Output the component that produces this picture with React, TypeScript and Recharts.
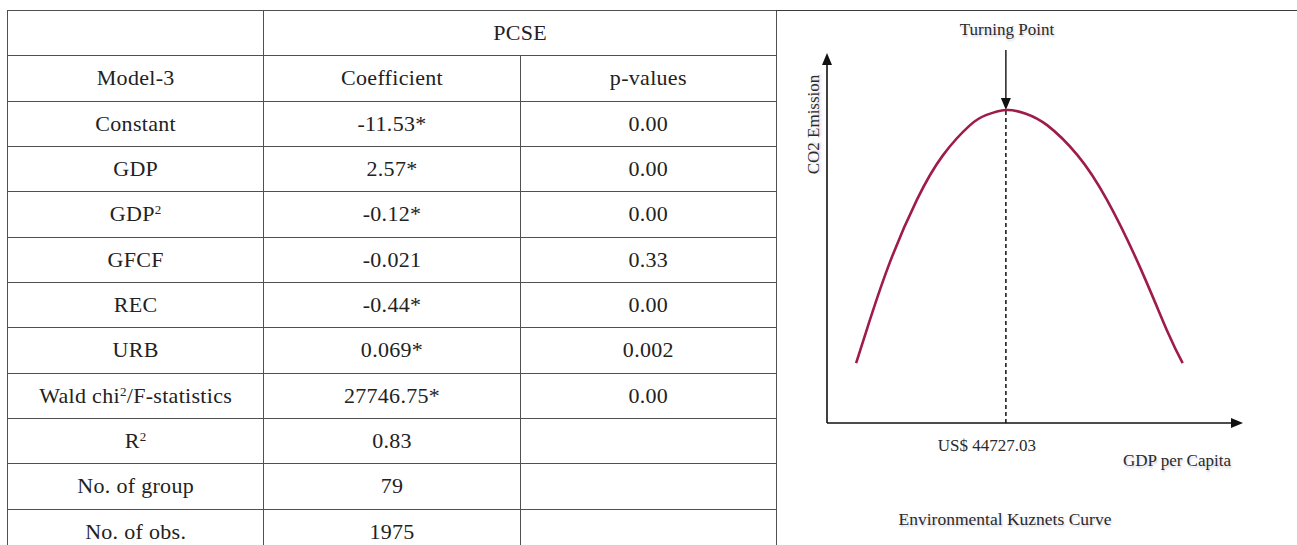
import { LineChart, Line, XAxis, YAxis, ReferenceLine } from 'recharts'

// regression table (PCSE, Model-3)
const variables = ['Constant', 'GDP', 'GDP^2', 'GFCF', 'REC', 'URB', 'Wald chi^2/F-statistics', 'R^2', 'No. of group', 'No. of obs.']
const coefficients = ['-11.53*', '2.57*', '-0.12*', '-0.021', '-0.44*', '0.069*', '27746.75*', '0.83', '79', '1975']
const pValues = ['0.00', '0.00', '0.00', '0.33', '0.00', '0.002', '0.00', '', '', '']

// EKC sketch (x: GDP per capita, y: CO2 emission, both 0-100)
const gdpLevels = [7.0, 9.3, 14.7, 21.6, 27.9, 34.4, 38.2, 43.0, 47.8, 52.9, 60.2, 67.3, 75.2, 82.0, 85.5]
const emissionLevels = [16.2, 24.3, 42.2, 60.3, 72.4, 80.5, 83.2, 84.6, 83.6, 80.5, 72.4, 60.3, 42.2, 24.3, 16.2]
const turningGdp = 43.0
const turningEmission = 84.6
const turningLabel = 'US$ 44727.03'

const curve = gdpLevels.map((g, i) => ({ gdp: g, co2: emissionLevels[i] }))

const serif = '"Liberation Serif", "Times New Roman", serif'
const ink = '#222'
const border = '1.5px solid #505050'

const withSup = (s: string) => {
  const i = s.indexOf('^')
  if (i < 0) return s
  return (
    <>
      {s.slice(0, i)}
      <sup style={{ fontSize: 13, lineHeight: 0, verticalAlign: 7 }}>{s[i + 1]}</sup>
      {s.slice(i + 2)}
    </>
  )
}

const ArrowLine = (dir: 'up' | 'right' | 'down') => (props: any) => {
  const { x1, y1, x2, y2 } = props
  const h = 12
  const w = 5
  if (dir === 'up') {
    const tx = x2
    const ty = Math.min(y1, y2)
    return (
      <g>
        <line x1={x1} y1={Math.max(y1, y2)} x2={tx} y2={ty + h - 2} stroke="#111" strokeWidth={1.6} />
        <polygon points={`${tx},${ty} ${tx - w},${ty + h} ${tx + w},${ty + h}`} fill="#111" />
      </g>
    )
  }
  if (dir === 'right') {
    const tx = Math.max(x1, x2)
    const ty = y2
    return (
      <g>
        <line x1={Math.min(x1, x2)} y1={y1} x2={tx - h + 2} y2={ty} stroke="#111" strokeWidth={1.6} />
        <polygon points={`${tx},${ty} ${tx - h},${ty - w} ${tx - h},${ty + w}`} fill="#111" />
      </g>
    )
  }
  const tx = x2
  const ty = Math.max(y1, y2)
  return (
    <g>
      <line x1={x1} y1={Math.min(y1, y2)} x2={tx} y2={ty - h + 2} stroke="#111" strokeWidth={1.4} />
      <polygon points={`${tx},${ty} ${tx - w},${ty - h} ${tx + w},${ty - h}`} fill="#111" />
    </g>
  )
}

const shadow = '1px 2px 2px rgba(120,130,175,0.35)'

function ResultsTable() {
  const cell = {
    border,
    textAlign: 'center' as const,
    verticalAlign: 'middle' as const,
    padding: 0,
    fontFamily: serif,
    fontSize: 22,
    color: ink,
    letterSpacing: 0.3,
  }
  const rowH = 45.33
  return (
    <table
      style={{
        position: 'absolute',
        left: 7,
        top: 10,
        width: 770,
        borderCollapse: 'collapse',
        tableLayout: 'fixed',
      }}
    >
      <colgroup>
        <col style={{ width: 256 }} />
        <col style={{ width: 256 }} />
        <col style={{ width: 256 }} />
      </colgroup>
      <tbody>
        <tr style={{ height: rowH }}>
          <td style={cell}></td>
          <td style={cell} colSpan={2}>PCSE</td>
        </tr>
        <tr style={{ height: rowH }}>
          <td style={cell}>Model-3</td>
          <td style={cell}>Coefficient</td>
          <td style={cell}>p-values</td>
        </tr>
        {variables.map((v, i) => (
          <tr key={v} style={{ height: rowH }}>
            <td style={cell}>{withSup(v)}</td>
            <td style={cell}>{coefficients[i]}</td>
            <td style={cell}>{pValues[i]}</td>
          </tr>
        ))}
      </tbody>
    </table>
  )
}

const label = (text: string, cx: number, top: number, size = 17) => (
  <div
    style={{
      position: 'absolute',
      left: cx - 150,
      top,
      width: 300,
      textAlign: 'center',
      fontFamily: serif,
      fontSize: size,
      lineHeight: `${size}px`,
      color: '#2a2a2a',
      textShadow: shadow,
      whiteSpace: 'nowrap',
    }}
  >
    {text}
  </div>
)

export default function App() {
  return (
    <div
      style={{
        position: 'absolute',
        left: 0,
        top: 0,
        width: 1297,
        height: 545,
        overflow: 'hidden',
        background: '#fff',
      }}
    >
      <ResultsTable />
      <div style={{ position: 'absolute', left: 776, top: 10, width: 521, height: 0, borderTop: '1.5px solid #3a3a3a' }} />

      <div style={{ position: 'absolute', left: 776, top: 0 }}>
        <LineChart width={521} height={545} data={curve} margin={{ top: 53, right: 54, bottom: 82, left: 51 }}>
          <XAxis
            dataKey="gdp"
            type="number"
            domain={[0, 100]}
            ticks={[turningGdp]}
            tickFormatter={() => turningLabel}
            axisLine={false}
            tickLine={false}
            height={40}
            tick={{ fill: '#2a2a2a', fontSize: 17, fontFamily: serif, dx: -19, dy: 8 }}
          />
          <YAxis type="number" domain={[0, 100]} hide />
          <ReferenceLine
            segment={[{ x: 0, y: 0 }, { x: 0, y: 100 }]}
            shape={ArrowLine('up')}
            ifOverflow="visible"
          />
          <ReferenceLine
            segment={[{ x: 0, y: 0 }, { x: 100, y: 0 }]}
            shape={ArrowLine('right')}
            ifOverflow="visible"
          />
          <ReferenceLine
            segment={[{ x: turningGdp, y: 0 }, { x: turningGdp, y: turningEmission }]}
            stroke="#111"
            strokeWidth={1.5}
            strokeDasharray="4 3"
            ifOverflow="visible"
          />
          <ReferenceLine
            segment={[{ x: turningGdp, y: 100.8 }, { x: turningGdp, y: turningEmission }]}
            shape={ArrowLine('down')}
            ifOverflow="visible"
          />
          <Line
            type="natural"
            dataKey="co2"
            stroke="#9e1b4c"
            strokeWidth={2.6}
            dot={false}
            isAnimationActive={false}
          />
        </LineChart>
      </div>

      {label('Turning Point', 1007, 21)}
      {label('GDP per Capita', 1177, 452)}
      {label('Environmental Kuznets Curve', 1005, 511, 17.5)}
      <div
        style={{
          position: 'absolute',
          left: 813 - 60,
          top: 125 - 9,
          width: 120,
          textAlign: 'center',
          fontFamily: serif,
          fontSize: 17,
          lineHeight: '17px',
          color: '#2a2a2a',
          textShadow: shadow,
          transform: 'rotate(-90deg)',
          whiteSpace: 'nowrap',
        }}
      >
        CO2 Emission
      </div>
    </div>
  )
}
